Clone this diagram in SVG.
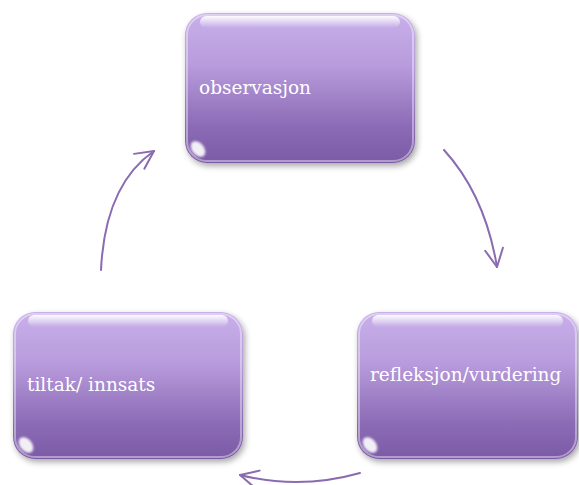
<svg xmlns="http://www.w3.org/2000/svg" width="579" height="485" viewBox="0 0 579 485">
<defs>
<linearGradient id="fill" x1="0" y1="0" x2="0" y2="1">
<stop offset="0" stop-color="#c8b0ea"/>
<stop offset="0.35" stop-color="#b89bdc"/>
<stop offset="0.75" stop-color="#8c6cb6"/>
<stop offset="1" stop-color="#7b5aa6"/>
</linearGradient>
<linearGradient id="gloss" x1="0" y1="0" x2="0" y2="1">
<stop offset="0" stop-color="#ffffff" stop-opacity="0.95"/>
<stop offset="1" stop-color="#ffffff" stop-opacity="0"/>
</linearGradient>
<filter id="sh" x="-10%" y="-10%" width="125%" height="125%">
<feGaussianBlur in="SourceAlpha" stdDeviation="3"/>
<feOffset dx="2" dy="3"/>
<feComponentTransfer><feFuncA type="linear" slope="0.35"/></feComponentTransfer>
<feMerge><feMergeNode/><feMergeNode in="SourceGraphic"/></feMerge>
</filter>
<filter id="blur1"><feGaussianBlur stdDeviation="1.2"/></filter>
<marker id="ah" viewBox="0 0 22 22" refX="20" refY="11" markerWidth="22" markerHeight="22" markerUnits="userSpaceOnUse" orient="auto">
<path d="M2,2 L20,11 L2,20" fill="none" stroke="#8a6bb2" stroke-width="2" stroke-linecap="round" stroke-linejoin="round"/>
</marker>
</defs>
<style>
.box{fill:url(#fill);filter:url(#sh)}
.rim{fill:none;stroke:#ffffff;stroke-opacity:0.4;stroke-width:2}
.hl{fill:url(#gloss)}
.spot{fill:#ffffff;opacity:0.9;filter:url(#blur1)}
.lbl{font-family:"DejaVu Serif","Liberation Serif",serif;font-size:18.5px;fill:#ffffff}
.conn{fill:none;stroke:#8a6bb2;stroke-width:2;stroke-linecap:round;marker-end:url(#ah)}
</style>
<g id="connectors">
<path class="conn" d="M444,150 Q485,195 497,267"/>
<path class="conn" d="M360,473 Q300,490 240,475"/>
<path class="conn" d="M101,270 Q105,185 154,151"/>
</g>
<g id="observasjon">
<rect class="box" x="185" y="13" width="230" height="150" rx="22"/>
<rect class="rim" x="187" y="15" width="226" height="146" rx="20"/>
<rect class="hl" x="200" y="16" width="200" height="12" rx="6"/>
<ellipse class="spot" cx="198" cy="149" rx="6" ry="9" transform="rotate(-40 198 149)"/>
<text class="lbl" x="199" y="94">observasjon</text>
</g>
<g id="refleksjon">
<rect class="box" x="357" y="312" width="221" height="147" rx="22"/>
<rect class="rim" x="359" y="314" width="217" height="143" rx="20"/>
<rect class="hl" x="372" y="315" width="191" height="12" rx="6"/>
<ellipse class="spot" cx="370" cy="445" rx="6" ry="9" transform="rotate(-40 370 445)"/>
<text class="lbl" x="370" y="381">refleksjon/vurdering</text>
</g>
<g id="tiltak">
<rect class="box" x="13" y="312" width="230" height="147" rx="22"/>
<rect class="rim" x="15" y="314" width="226" height="143" rx="20"/>
<rect class="hl" x="28" y="315" width="200" height="12" rx="6"/>
<ellipse class="spot" cx="26" cy="445" rx="6" ry="9" transform="rotate(-40 26 445)"/>
<text class="lbl" x="27" y="391">tiltak/ innsats</text>
</g>
</svg>
